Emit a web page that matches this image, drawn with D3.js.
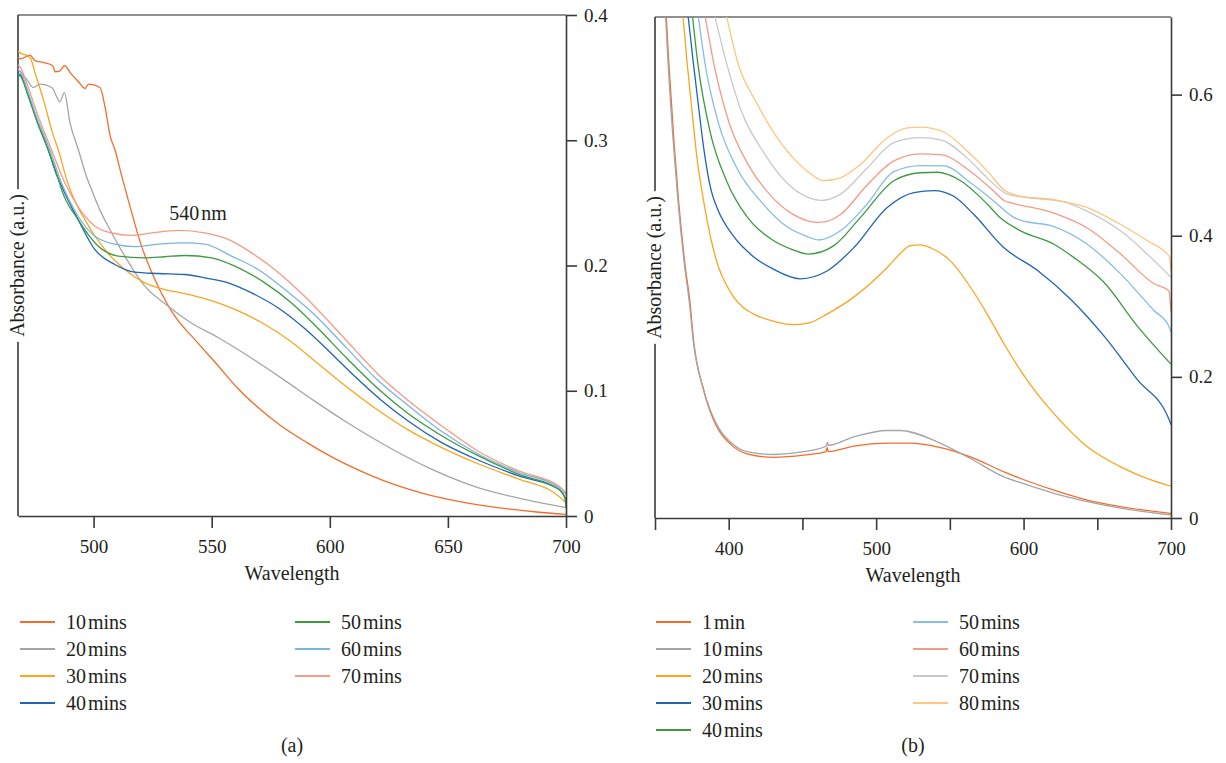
<!DOCTYPE html>
<html lang="en">
<head>
<meta charset="UTF-8">
<title>Absorbance spectra</title>
<style>
  body { margin: 0; background: #fff; }
  svg text { font-family: "Liberation Serif", "DejaVu Serif", serif; fill: #231f20; }
  .axis path, .axis line { stroke: #3a3a3a; stroke-width: 1.6; }
  .axis text { font-size: 19px; }
  .label { font-size: 20px; }
  .spectrum { fill: none; stroke-width: 1.3; stroke-linejoin: round; }
</style>
<script src="https://d3js.org/d3.v7.min.js"></script>
</head>
<body>
<script>
// ---- panel (a) data: [wavelength nm, absorbance] ----
const a10 = [[468,0.366],[469.1,0.365],[473.1,0.368],[475.2,0.3635],[479,0.362],[482.7,0.3595],[483.7,0.3547],[485.5,0.355],[487.6,0.3595],[490.5,0.353],[493.6,0.3467],[496.4,0.3413],[497.8,0.3448],[502.7,0.3421],[505,0.325],[507,0.3035],[509,0.2928],[511.9,0.2715],[514.6,0.2528],[520.3,0.2155],[527.3,0.1835],[534.4,0.1595],[542.9,0.1408],[552.7,0.12],[561,0.102],[570,0.086],[579,0.0725],[590,0.059],[600,0.048],[616,0.0335],[629,0.024],[639,0.0183],[655,0.0115],[671,0.0067],[687.5,0.0032],[700,0.0013]];
const a20 = [[468,0.357],[469.1,0.3541],[471.7,0.3488],[474.5,0.3421],[477.3,0.3448],[482.3,0.3421],[485.8,0.3307],[487.6,0.3381],[490,0.3141],[493.5,0.2928],[497.4,0.2688],[499.1,0.2608],[502.5,0.245],[506.1,0.2315],[513.2,0.2075],[521.7,0.1835],[531.6,0.1675],[541.4,0.1541],[552.7,0.1425],[566.9,0.126],[580,0.1095],[593,0.0925],[607,0.075],[622.5,0.0575],[643.5,0.037],[663,0.0225],[679,0.0147],[700,0.0067]];
const a30 = [[468,0.371],[469.1,0.3696],[473.1,0.3661],[475.5,0.352],[478.7,0.3328],[483,0.3035],[485,0.2928],[488.6,0.2688],[490.6,0.2581],[496.2,0.2368],[504.7,0.2128],[513.2,0.1968],[521.7,0.1861],[530.1,0.1808],[538.6,0.1776],[548.5,0.1728],[559.8,0.165],[571.1,0.1545],[583.8,0.139],[595.1,0.1215],[607.2,0.103],[620,0.085],[633,0.069],[647,0.055],[663,0.0415],[680,0.0295],[695,0.0185],[700,0.0107]];
const a40 = [[468,0.353],[469.1,0.352],[472,0.338],[476,0.316],[480.7,0.2928],[484.4,0.272],[486.4,0.2635],[493.4,0.2368],[500.5,0.2128],[509,0.2008],[517.4,0.1947],[527.3,0.1936],[538.6,0.1928],[547.1,0.1901],[557,0.1861],[566.9,0.1781],[578.2,0.1661],[589.5,0.1495],[600,0.131],[610,0.1125],[621.4,0.093],[633,0.076],[647,0.059],[663,0.0445],[680,0.032],[697,0.0213],[700,0.0133]];
const a50 = [[468,0.352],[469.1,0.351],[472,0.337],[476,0.315],[480.7,0.2928],[485.1,0.2688],[486.4,0.2608],[493.4,0.2368],[501.9,0.2155],[510.4,0.2075],[521.7,0.2061],[530.1,0.207],[538.6,0.208],[549.9,0.2061],[559.8,0.1995],[572.5,0.1861],[583.8,0.1701],[593.1,0.1535],[607.2,0.126],[621.4,0.1],[633,0.082],[647,0.0645],[663,0.048],[680,0.0333],[697,0.0213],[699.5,0.0147],[700,0.0067]];
const a60 = [[468,0.356],[469.1,0.355],[472,0.34],[476,0.318],[481.4,0.2928],[486.4,0.266],[493.4,0.2395],[500.5,0.2235],[509,0.217],[517.4,0.215],[527.3,0.217],[538.6,0.2181],[547.1,0.217],[558.4,0.2075],[569.7,0.1968],[581,0.1808],[593.1,0.1615],[607.2,0.134],[620,0.109],[632,0.09],[647,0.068],[663,0.0493],[680,0.0347],[697,0.0227],[700,0.0173]];
const a70 = [[468,0.36],[469.1,0.358],[472,0.344],[476,0.322],[482.1,0.2928],[487.8,0.266],[493.4,0.247],[500.5,0.2315],[507.5,0.226],[516,0.224],[524.5,0.226],[535.8,0.228],[547.1,0.226],[557,0.2208],[566.9,0.2101],[578.2,0.1945],[589,0.176],[600,0.1545],[610,0.134],[620,0.114],[632,0.094],[647,0.0725],[663,0.0515],[680,0.036],[697,0.024],[700,0.0187]];

// ---- panel (b) data ----
const b1 = [[357.4,0.72],[359.3,0.647],[363,0.53],[366,0.449],[370.6,0.355],[373.6,0.308],[376.2,0.251],[383,0.181],[392,0.129],[401,0.105],[412.4,0.091],[430.5,0.086],[450.9,0.089],[466,0.094],[466.8,0.1],[467.5,0.094],[484.8,0.102],[507.5,0.106],[523.3,0.106],[541.4,0.1007],[564,0.0866],[586.7,0.0654],[598,0.056],[620.6,0.0395],[643.2,0.0254],[665.8,0.016],[700,0.0066]];
const b10 = [[357,0.72],[358.8,0.647],[362.5,0.53],[365.6,0.449],[370.2,0.355],[373.3,0.305],[376,0.25],[383,0.182],[392,0.132],[401,0.108],[412.4,0.094],[430.5,0.09],[450.9,0.094],[466.2,0.102],[466.9,0.107],[467.6,0.103],[484.8,0.115],[507.5,0.124],[516.5,0.124],[541.4,0.108],[564,0.0843],[586.7,0.0583],[598,0.05],[620.6,0.035],[643.2,0.0233],[665.8,0.014],[700,0.0043]];
const b20 = [[368.6,0.72],[371.7,0.647],[374.7,0.585],[378.5,0.51],[383,0.449],[388,0.395],[393,0.356],[398,0.332],[403.4,0.313],[410,0.298],[417,0.289],[430,0.279],[444,0.274],[455.4,0.277],[466.7,0.289],[484.8,0.313],[507.5,0.355],[516,0.374],[523.3,0.386],[530,0.387],[536.9,0.383],[550.5,0.364],[564,0.327],[575.3,0.289],[586.7,0.247],[598,0.209],[609.3,0.176],[620.6,0.148],[643.2,0.101],[665.8,0.0725],[685,0.055],[700,0.045]];
const b30 = [[372,0.72],[376,0.645],[380,0.575],[383,0.525],[388,0.465],[392,0.44],[403,0.4],[417,0.37],[430,0.353],[448.5,0.339],[466.7,0.35],[484.8,0.383],[507.5,0.44],[525.6,0.461],[539.2,0.464],[552.7,0.456],[566.3,0.43],[586.7,0.383],[609.3,0.351],[631.9,0.31],[654.5,0.258],[677.2,0.196],[699,0.138],[700,0.132]];
const b40 = [[375,0.72],[379,0.645],[387.3,0.548],[398.7,0.477],[412,0.428],[429,0.395],[443.7,0.38],[454,0.374],[471.3,0.386],[489.4,0.426],[512,0.478],[530.1,0.4893],[541.4,0.49],[557.3,0.478],[575.3,0.445],[584.4,0.425],[598,0.407],[620.6,0.388],[634.2,0.369],[654.5,0.334],[677.2,0.272],[700,0.218]];
const b50 = [[378.8,0.72],[384,0.643],[393,0.56],[405.5,0.496],[422.5,0.447],[439.4,0.413],[453,0.399],[461,0.394],[475.8,0.407],[493.9,0.445],[512,0.491],[530.1,0.4995],[545.9,0.499],[564,0.475],[579.9,0.449],[593.4,0.426],[598,0.422],[620.6,0.413],[643.2,0.388],[665.8,0.346],[688.5,0.294],[698.5,0.272],[700,0.263]];
const b60 = [[383.3,0.72],[390,0.643],[400,0.562],[413.4,0.5],[428,0.458],[444,0.43],[460,0.419],[466,0.42],[475.8,0.43],[493.9,0.472],[512,0.506],[530.1,0.516],[543.7,0.515],[564,0.491],[579.9,0.463],[586.7,0.45],[591.2,0.447],[620.6,0.432],[643.2,0.411],[665.8,0.374],[688.5,0.332],[698.5,0.322],[700,0.292]];
const b70 = [[389.6,0.72],[398.5,0.645],[408,0.58],[424.7,0.515],[439.4,0.475],[453,0.455],[463,0.45],[475.8,0.459],[493.9,0.496],[512,0.532],[530.1,0.539],[543.7,0.536],[561.8,0.51],[575.3,0.482],[588.9,0.459],[602.5,0.454],[625.1,0.449],[647.7,0.43],[665.8,0.407],[683.9,0.374],[700,0.341]];
const b80 = [[397.6,0.72],[406.5,0.643],[419,0.588],[432.5,0.54],[446,0.505],[455.4,0.488],[464.3,0.478],[475.8,0.482],[489.4,0.501],[507.5,0.539],[521.1,0.553],[530.1,0.554],[545.9,0.547],[561.8,0.52],[575.3,0.492],[586.7,0.465],[598,0.456],[620.6,0.451],[643.2,0.44],[665.8,0.416],[683.9,0.393],[699,0.37],[700,0.35]];

const namesA = ["10 mins","20 mins","30 mins","40 mins","50 mins","60 mins","70 mins"];
const namesB = ["1 min","10 mins","20 mins","30 mins","40 mins","50 mins","60 mins","70 mins","80 mins"];
const colorsA = ["#f26d2c","#a5a5a5","#f8a61f","#1f64b5","#3d9a41","#7ab5e2","#f49a85"];
const colorsB = ["#f26d2c","#a5a5a5","#f8a61f","#1f64b5","#3d9a41","#85bde5","#f49a85","#c9c9c9","#fdc680"];
const xTicksA = [500,550,600,650,700];
const yTicksA = [0,0.1,0.2,0.3,0.4];
const xTicksB = [350,400,450,500,550,600,650,700];
const yTicksB = [0,0.2,0.4,0.6];

const seriesA = [a10,a20,a30,a40,a50,a60,a70].map((d,i) => ({name: namesA[i], color: colorsA[i], data: d}));
const seriesB = [b1,b10,b20,b30,b40,b50,b60,b70,b80].map((d,i) => ({name: namesB[i], color: colorsB[i], data: d}));

const svg = d3.select("body").append("svg")
  .attr("width", 1226).attr("height", 763);

const yFmt = d => d === 0 ? "0" : d3.format(".1f")(d);

function panel(id, x, y, xTicks, yTicks, xFmt, series) {
  const [x0, x1] = x.range();
  const [y0, y1] = y.range(); // y0 bottom, y1 top
  const g = svg.append("g");

  g.append("clipPath").attr("id", "clip" + id)
    .append("rect").attr("x", x0).attr("y", y1).attr("width", x1 - x0).attr("height", y0 - y1);

  // top and left border
  g.append("line").attr("x1", x0).attr("x2", x1).attr("y1", y1).attr("y2", y1)
    .attr("stroke", "#6b6b6b").attr("stroke-width", 1.5);
  g.append("line").attr("x1", x0).attr("x2", x0).attr("y1", y1).attr("y2", y0)
    .attr("stroke", "#3a3a3a").attr("stroke-width", 1.6);

  const line = d3.line().x(d => x(d[0])).y(d => y(d[1])).curve(d3.curveMonotoneX);
  g.append("g").attr("clip-path", `url(#clip${id})`)
    .selectAll("path").data(series).enter().append("path")
    .attr("class", "spectrum")
    .attr("stroke", d => d.color)
    .attr("d", d => line(d.data));

  g.append("g").attr("class", "axis")
    .attr("transform", `translate(0,${y0})`)
    .call(d3.axisBottom(x).tickValues(xTicks).tickFormat(xFmt).tickSizeInner(12).tickSizeOuter(0).tickPadding(12));

  g.append("g").attr("class", "axis")
    .attr("transform", `translate(${x1},0)`)
    .call(d3.axisRight(y).tickValues(yTicks).tickFormat(yFmt).tickSizeInner(11).tickSizeOuter(0).tickPadding(7));

  g.append("text").attr("class", "label")
    .attr("x", (x0 + x1) / 2).attr("y", y0 + 64)
    .attr("text-anchor", "middle").text("Wavelength");

  // y title sitting on the left border
  const cy = (y0 + y1) / 2;
  const bg = g.append("rect").attr("fill", "#fff");
  const t = g.append("text").attr("class", "label")
    .attr("transform", `translate(${x0 + 6},${cy}) rotate(-90)`)
    .attr("text-anchor", "middle").text("Absorbance (a.u.)");
  const len = t.node().getComputedTextLength();
  bg.attr("x", x0 - 12).attr("y", cy - len / 2 - 5).attr("width", 24).attr("height", len + 10);
  return g;
}

// number and unit set tight, like the original typesetting
function tightText(sel, str) {
  const parts = str.split(" ");
  sel.append("tspan").text(parts[0]);
  sel.append("tspan").attr("dx", 2).text(parts[1]);
}

function legend(series, cols, rows, perCol) {
  series.forEach((s, i) => {
    const c = Math.floor(i / perCol), r = i % perCol;
    const lx = cols[c], ly = rows[r];
    svg.append("line").attr("x1", lx).attr("x2", lx + 35).attr("y1", ly).attr("y2", ly)
      .attr("stroke", s.color).attr("stroke-width", 2);
    const t = svg.append("text").attr("class", "label")
      .attr("x", lx + 46).attr("y", ly).attr("dy", "0.35em");
    tightText(t, s.name);
  });
}

// panel (a)
const xA = d3.scaleLinear().domain([468, 700]).range([18, 566]);
const yA = d3.scaleLinear().domain([0, 0.4]).range([516, 15]);
panel("a", xA, yA, xTicksA, yTicksA, d3.format("d"), seriesA);
const note = svg.append("text").attr("class", "label")
  .attr("x", xA(540) + 10).attr("y", yA(0.242)).attr("dy", "0.35em")
  .attr("text-anchor", "middle");
tightText(note, "540 nm");
legend(seriesA, [20, 295], [622, 649, 676, 703], 4);
svg.append("text").attr("class", "label").attr("x", 292).attr("y", 752)
  .attr("text-anchor", "middle").text("(a)");

// panel (b)
const xB = d3.scaleLinear().domain([350, 700]).range([655, 1171]);
const yB = d3.scaleLinear().domain([0, 0.71]).range([518, 17]);
panel("b", xB, yB, xTicksB, yTicksB, d => d % 100 === 0 ? d : "", seriesB);
legend(seriesB, [656, 913], [622, 649, 676, 703, 730], 5);
svg.append("text").attr("class", "label").attr("x", 913).attr("y", 752)
  .attr("text-anchor", "middle").text("(b)");
</script>
</body>
</html>
